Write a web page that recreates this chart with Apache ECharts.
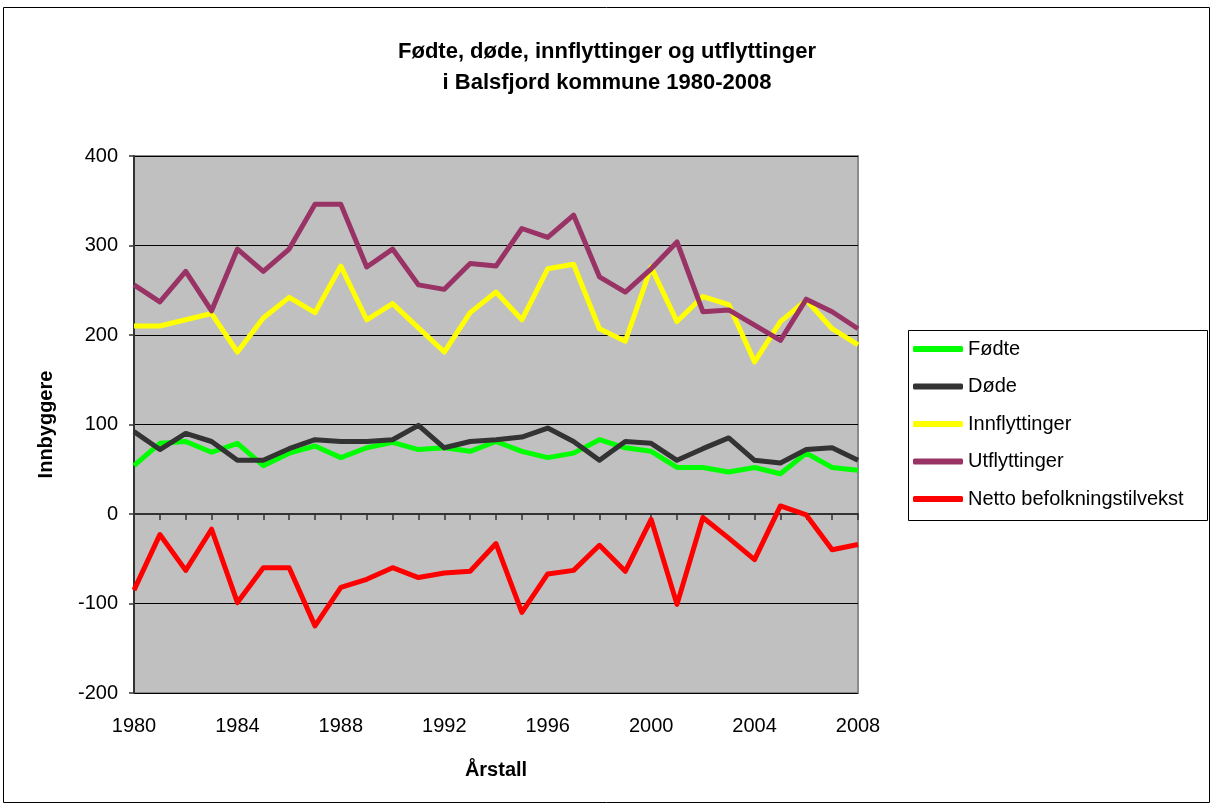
<!DOCTYPE html>
<html>
<head>
<meta charset="utf-8">
<script src="https://cdn.jsdelivr.net/npm/echarts@6/dist/echarts.min.js"></script>
<style>
  html, body { margin: 0; padding: 0; background: #fff; }
  #main { width: 1214px; height: 807px; }
</style>
</head>
<body>
<div id="main"></div>
<script>
var years = [];
for (var y = 1980; y <= 2008; y++) years.push(String(y));

var fodte = [54, 79, 81, 69, 79, 54, 68, 76, 63, 74, 80, 72, 74, 70, 81,
             70, 63, 68, 83, 74, 70, 52, 52, 47, 52, 45, 68, 52, 49];
var dode = [92, 72, 90, 81, 60, 60, 73, 83, 81, 81, 83, 99, 74, 81, 83,
            86, 96, 81, 60, 81, 79, 60, 73, 85, 60, 57, 72, 74, 60];
var innflyttinger = [210, 210, 217, 224, 181, 219, 242, 225, 277, 217, 235, 208, 181, 225, 248,
                     217, 274, 279, 207, 193, 276, 215, 243, 234, 170, 215, 239, 207, 189];
var utflyttinger = [256, 237, 271, 227, 296, 271, 296, 346, 346, 276, 296, 256, 251, 280, 277,
                    319, 309, 334, 265, 248, 274, 304, 226, 228, 211, 194, 240, 226, 207];
var netto = [-85, -23, -63, -17, -99, -60, -60, -125, -82, -73, -60, -71, -66, -64, -33,
             -110, -67, -63, -35, -64, -6, -101, -4, -27, -51, 9, -1, -40, -34];

var seriesNames = ['Fødte', 'Døde', 'Innflyttinger', 'Utflyttinger', 'Netto befolkningstilvekst'];
var seriesColors = ['#00ff00', '#333333', '#ffff00', '#993366', '#ff0000'];
var seriesData = [fodte, dode, innflyttinger, utflyttinger, netto];

var font = 'Liberation Sans, Arial, sans-serif';

var chart = echarts.init(document.getElementById('main'));

var option = {
    backgroundColor: '#ffffff',
    animation: false,
    textStyle: { fontFamily: font },
    title: {
        text: 'Fødte, døde, innflyttinger og utflyttinger\ni Balsfjord kommune 1980-2008',
        left: 'center',
        top: 31,
        textStyle: { fontFamily: font, fontSize: 22, fontWeight: 'bold', color: '#000', lineHeight: 31 }
    },
    graphic: [
        { type: 'rect', shape: { x: 3.5, y: 7.5, width: 1206, height: 795 },
          style: { fill: 'none', stroke: '#000', lineWidth: 1 }, silent: true },
        { type: 'rect', shape: { x: 908.5, y: 330.5, width: 299, height: 190 },
          style: { fill: '#fff', stroke: '#000', lineWidth: 1 }, silent: true, z: -1 }
    ],
    legend: {
        orient: 'vertical',
        left: 913,
        top: 338,
        padding: 0,
        itemWidth: 50,
        itemHeight: 6,
        itemGap: 15.5,
        icon: 'roundRect',
        textStyle: { fontFamily: font, fontSize: 20, color: '#000', lineHeight: 22 },
        data: seriesNames
    },
    grid: {
        left: 134,
        right: 356,
        top: 156,
        bottom: 114,
        show: true,
        backgroundColor: '#c0c0c0',
        borderColor: '#8a8a8a',
        borderWidth: 2
    },
    xAxis: [
        {
            type: 'category',
            data: years,
            boundaryGap: false,
            position: 'bottom',
            axisLine: { show: false, onZero: false },
            axisTick: { show: false },
            axisLabel: { interval: 3, margin: 23, fontSize: 20, color: '#000', fontFamily: font },
            splitLine: { show: false },
            name: 'Årstall',
            nameLocation: 'middle',
            nameGap: 67,
            nameTextStyle: { fontSize: 20, fontWeight: 'bold', color: '#000', fontFamily: font }
        },
        {
            type: 'category',
            data: years,
            boundaryGap: false,
            position: 'top',
            axisLine: { show: true, onZero: true, lineStyle: { color: '#333', width: 2 } },
            axisTick: { show: true, inside: true, interval: 0, length: 6, lineStyle: { color: '#333', width: 1.5 } },
            axisLabel: { show: false },
            splitLine: { show: false }
        }
    ],
    yAxis: {
        type: 'value',
        min: -200,
        max: 400,
        interval: 100,
        axisLine: { show: true, lineStyle: { color: '#333', width: 2 } },
        axisTick: { show: true, length: 5, lineStyle: { color: '#333', width: 1.5 } },
        axisLabel: { margin: 16, fontSize: 20, color: '#000', fontFamily: font },
        splitLine: { show: true, lineStyle: { color: '#000', width: 1 } },
        name: 'Innbyggere',
        nameLocation: 'middle',
        nameGap: 78,
        nameTextStyle: { fontSize: 20, fontWeight: 'bold', color: '#000', fontFamily: font }
    },
    series: seriesNames.map(function (name, i) {
        return {
            name: name,
            type: 'line',
            data: seriesData[i],
            symbol: 'none',
            color: seriesColors[i],
            lineStyle: { width: 5, color: seriesColors[i], join: 'round' },
            z: 3 + i
        };
    })
};

chart.setOption(option);
</script>
</body>
</html>
